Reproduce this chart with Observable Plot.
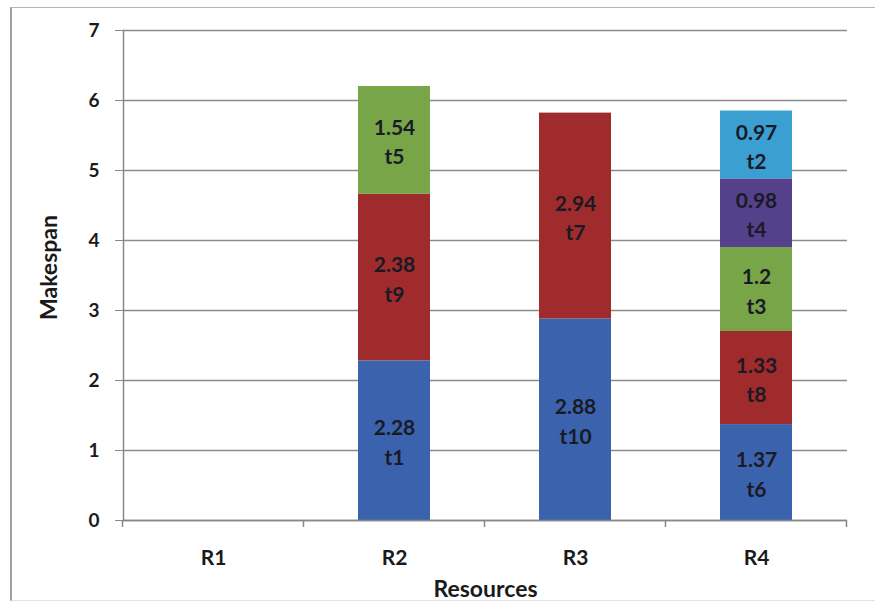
<!DOCTYPE html>
<html>
<head>
<meta charset="utf-8">
<script src="https://cdn.jsdelivr.net/npm/d3@7"></script>
<script src="https://cdn.jsdelivr.net/npm/@observablehq/plot@0.6"></script>
<style>
  html, body { margin: 0; padding: 0; background: #fff; }
  #wrap { position: relative; width: 875px; height: 603px; }
  #border { position: absolute; left: 10px; top: 7px; width: 865px; height: 592px;
            border-left: 2px solid #9aa3a3; border-top: 1.5px solid #b5b5b5; border-bottom: 1px solid #e2e2e2; pointer-events: none; }
  svg { font-family: Lato, "Open Sans", sans-serif; }
</style>
</head>
<body>
<div id="wrap"><div id="border"></div></div>
<script>
// Data
const resources = ["R1", "R2", "R3", "R4"];
const taskResource = ["R2", "R2", "R2", "R3", "R3", "R4", "R4", "R4", "R4", "R4"];
const taskName = ["t1", "t9", "t5", "t10", "t7", "t6", "t8", "t3", "t4", "t2"];
const taskTime = [2.28, 2.38, 1.54, 2.88, 2.94, 1.37, 1.33, 1.2, 0.98, 0.97];
const taskLevel = [1, 2, 3, 1, 2, 1, 2, 3, 4, 5];
const levels = [1, 2, 3, 4, 5];
const levelColors = ["#3b63ad", "#9f2b2c", "#77a548", "#55408b", "#3b9fd1"];
const yTicks = [0, 1, 2, 3, 4, 5, 6, 7];

const rows = taskName.map((t, i) => ({
  resource: taskResource[i], task: t, time: taskTime[i], level: taskLevel[i]
}));

const chart = Plot.plot({
  width: 875,
  height: 603,
  marginLeft: 123,
  marginRight: 28,
  marginTop: 30,
  marginBottom: 83,
  style: { fontFamily: "Lato, 'Open Sans', sans-serif", background: "transparent", overflow: "visible" },
  x: { domain: resources, paddingInner: 0.6, paddingOuter: 0.3, label: null },
  y: { domain: [0, 7], label: null },
  color: { domain: levels, range: levelColors },
  marks: [
    Plot.gridY(yTicks, { stroke: "#8c8c8c", strokeOpacity: 1, strokeWidth: 1.5 }),
    Plot.barY(rows, { x: "resource", y: "time", fill: "level" }),
    Plot.text(rows, Plot.stackY({
      x: "resource", y: "time",
      text: d => `${d.time}\n${d.task}`,
      fontSize: 21, fontWeight: "bold", fill: "#1a1a26", lineHeight: 1.4
    })),
    Plot.axisY(yTicks, { tickSize: 8, tickPadding: 16, stroke: "#888", fill: "#1a1a1a",
      tickFormat: d3.format("d"), fontSize: 19, fontWeight: "bold", label: null }),
    Plot.axisX({ tickSize: 0, tickPadding: 30, fill: "#1a1a1a", fontSize: 21, fontWeight: "bold", label: null }),
    Plot.ruleY([0], { stroke: "#888", strokeWidth: 1.5 }),
    Plot.frame({ anchor: "left", stroke: "#888", strokeWidth: 1.5 }),
    Plot.text(["Makespan"], { frameAnchor: "left", textAnchor: "middle", rotate: -90, dx: -74, dy: -8,
      fontSize: 23, fontWeight: "bold", fill: "#1a1a1a" }),
    Plot.text(["Resources"], { frameAnchor: "bottom", dy: 76, fontSize: 23, fontWeight: "bold", fill: "#1a1a1a" })
  ]
});

// Category boundary tick marks (Excel-style), placed from the x scale
const sx = chart.scale("x");
const sy = chart.scale("y");
const gap = (sx.step - sx.bandwidth) / 2;
const bounds = resources.map(r => sx.apply(r) - gap);
bounds.push(sx.apply(resources[resources.length - 1]) + sx.bandwidth + gap);
const y0 = sy.apply(0);
const g = d3.select(chart).append("g").attr("stroke", "#888").attr("stroke-width", 1.5);
bounds.forEach(b => g.append("line").attr("x1", b).attr("x2", b).attr("y1", y0).attr("y2", y0 + 7));

document.getElementById("wrap").appendChild(chart);
</script>
</body>
</html>
